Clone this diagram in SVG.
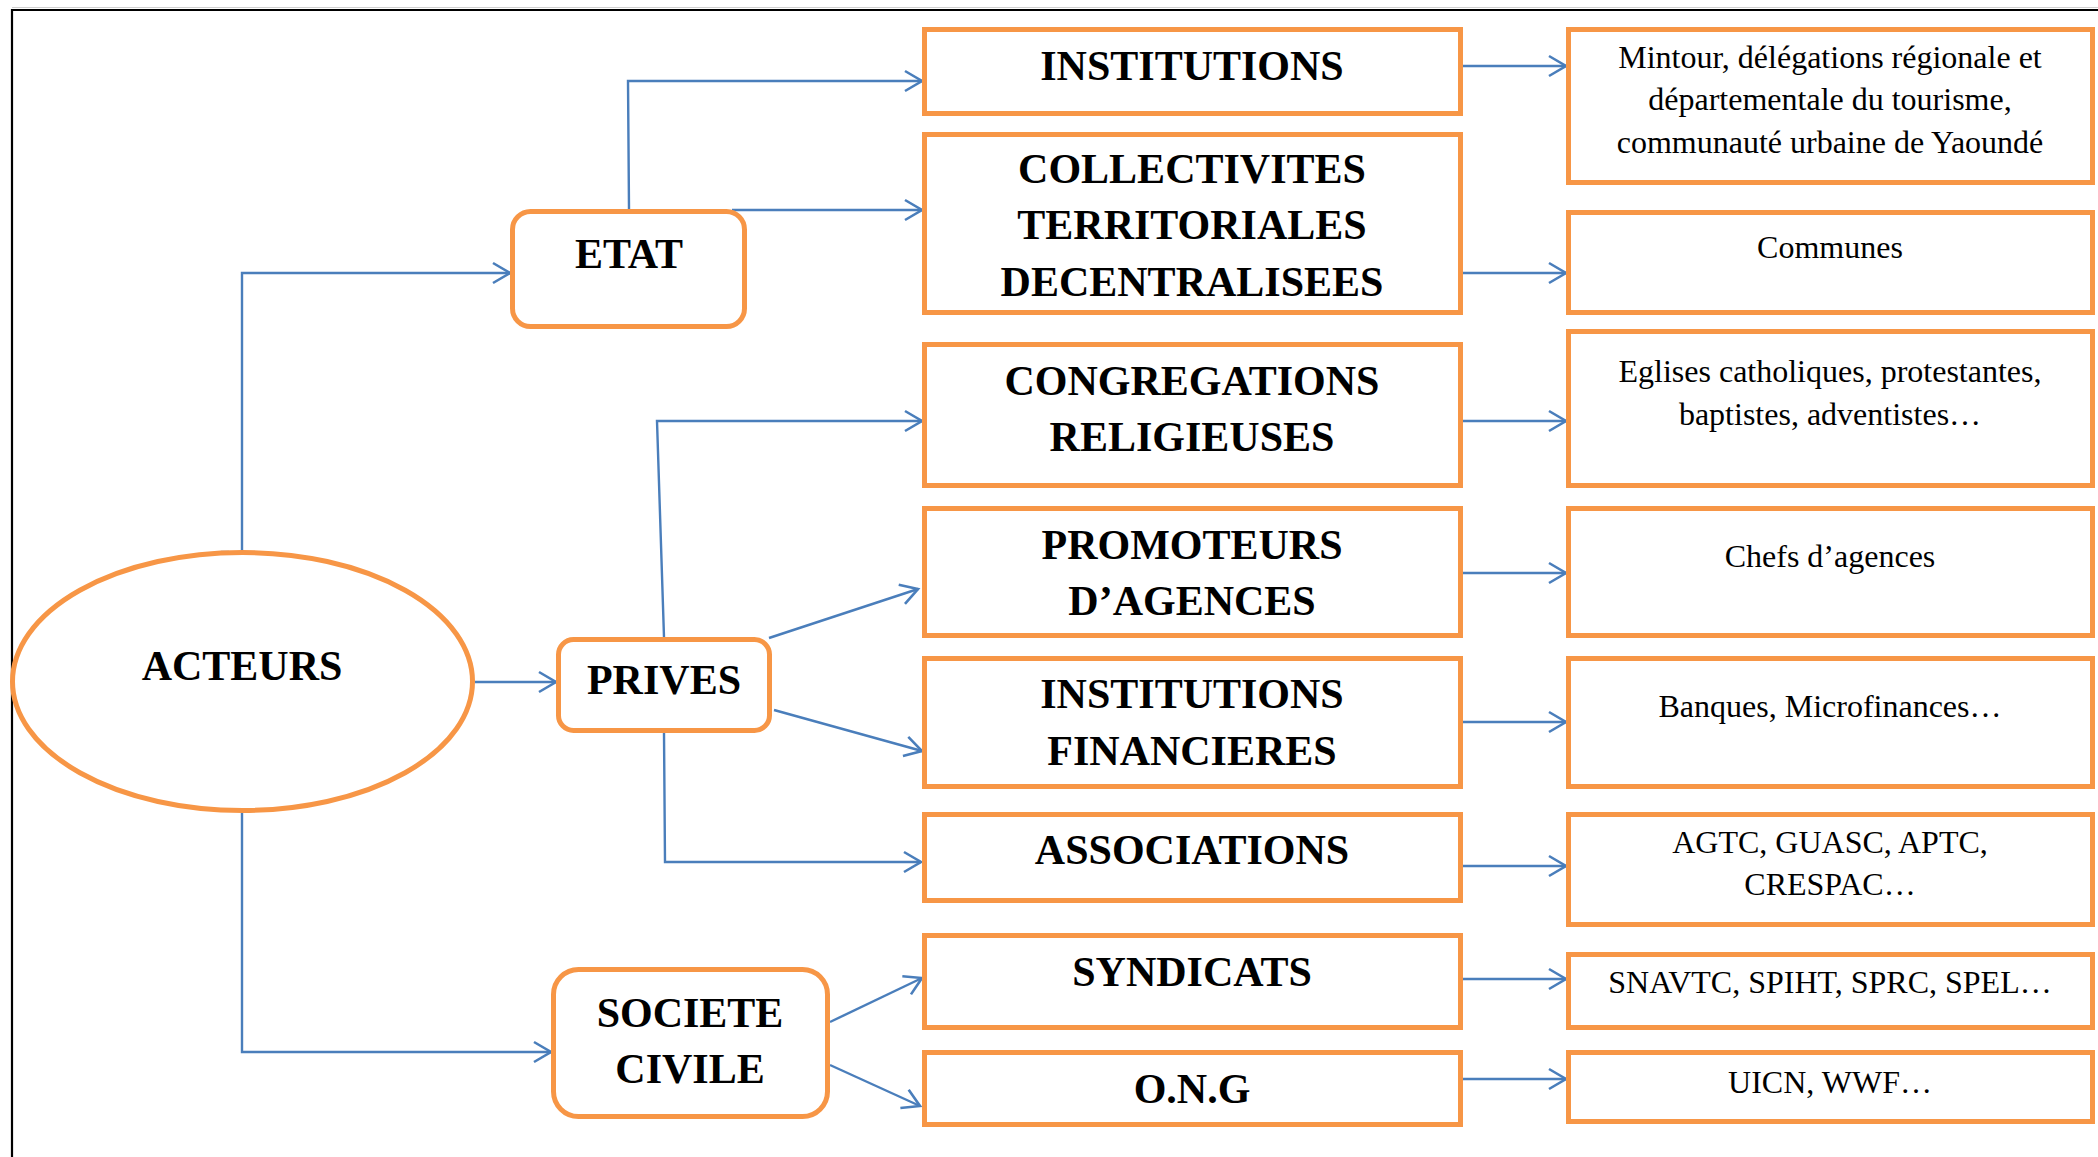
<svg xmlns="http://www.w3.org/2000/svg" width="2098" height="1157" viewBox="0 0 2098 1157">
  <style>
    .bg { fill: #ffffff; }
    .box { fill: #ffffff; stroke: #F79646; stroke-width: 5; }
    .conn { fill: none; stroke: #4A7EBB; stroke-width: 2.4; }
    .main { font-family: "Liberation Serif", "Times New Roman", serif; font-weight: bold; font-size: 42px; fill: #000; text-anchor: middle; }
    .desc { font-family: "Liberation Serif", "Times New Roman", serif; font-size: 32px; fill: #000; text-anchor: middle; }
  </style>
  <defs>
    <marker id="arr" markerUnits="userSpaceOnUse" markerWidth="26" markerHeight="26" viewBox="-22 -13 26 26" refX="0" refY="0" orient="auto">
      <path d="M-17,-10 L0,0 L-17,10" fill="none" stroke="#4A7EBB" stroke-width="2.6"/>
    </marker>
  </defs>

  <rect class="bg" x="0" y="0" width="2098" height="1157"/>

  <!-- page frame -->
  <line x1="12" y1="7.5" x2="2098" y2="7.5" stroke="#cfcfcf" stroke-width="1"/>
  <path d="M12,1157 L12,10 L2098,10" fill="none" stroke="#000" stroke-width="2.2"/>

  <!-- connectors -->
  <g id="connectors">
    <path class="conn" d="M242,552 L242,273 L510,273" marker-end="url(#arr)"/>
    <path class="conn" d="M475,682 L556,682" marker-end="url(#arr)"/>
    <path class="conn" d="M242,811 L242,1052 L551,1052" marker-end="url(#arr)"/>
    <line class="conn" x1="221" y1="552" x2="229" y2="552"/>

    <path class="conn" d="M629,209 L628,81 L922,81" marker-end="url(#arr)"/>
    <path class="conn" d="M732,210 L922,210" marker-end="url(#arr)"/>

    <path class="conn" d="M664,637 L657,421 L922,421" marker-end="url(#arr)"/>
    <path class="conn" d="M769,638 L918,589" marker-end="url(#arr)"/>
    <path class="conn" d="M774,710 L922,751" marker-end="url(#arr)"/>
    <path class="conn" d="M664,733 L665,862 L921,862" marker-end="url(#arr)"/>

    <path class="conn" d="M830,1022 L922,978" marker-end="url(#arr)"/>
    <path class="conn" d="M830,1065 L920,1106" marker-end="url(#arr)"/>

    <path class="conn" d="M1463,66 L1566,66" marker-end="url(#arr)"/>
    <path class="conn" d="M1463,273 L1566,273" marker-end="url(#arr)"/>
    <path class="conn" d="M1463,421 L1566,421" marker-end="url(#arr)"/>
    <path class="conn" d="M1463,573 L1566,573" marker-end="url(#arr)"/>
    <path class="conn" d="M1463,722 L1566,722" marker-end="url(#arr)"/>
    <path class="conn" d="M1463,866 L1566,866" marker-end="url(#arr)"/>
    <path class="conn" d="M1463,979 L1566,979" marker-end="url(#arr)"/>
    <path class="conn" d="M1463,1079 L1566,1079" marker-end="url(#arr)"/>
  </g>

  <!-- root -->
  <g id="acteurs">
    <ellipse class="box" cx="242.5" cy="681.5" rx="230" ry="129"/>
    <text class="main" x="242" y="680">ACTEURS</text>
  </g>

  <!-- actor categories -->
  <g id="etat">
    <rect class="box" x="512.5" y="211.5" width="232" height="115" rx="18"/>
    <text class="main" x="629" y="268">ETAT</text>
  </g>
  <g id="prives">
    <rect class="box" x="558.5" y="639.5" width="211" height="91" rx="15"/>
    <text class="main" x="664" y="694">PRIVES</text>
  </g>
  <g id="societe-civile">
    <rect class="box" x="553.5" y="969.5" width="274" height="147" rx="25"/>
    <text class="main" x="690" y="1027">SOCIETE</text>
    <text class="main" x="690" y="1083">CIVILE</text>
  </g>

  <!-- actor types -->
  <g id="institutions">
    <rect class="box" x="924.5" y="29.5" width="536" height="84"/>
    <text class="main" x="1192" y="80">INSTITUTIONS</text>
  </g>
  <g id="collectivites">
    <rect class="box" x="924.5" y="134.5" width="536" height="178"/>
    <text class="main" x="1192" y="183">COLLECTIVITES</text>
    <text class="main" x="1192" y="239">TERRITORIALES</text>
    <text class="main" x="1192" y="296">DECENTRALISEES</text>
  </g>
  <g id="congregations">
    <rect class="box" x="924.5" y="344.5" width="536" height="141"/>
    <text class="main" x="1192" y="395">CONGREGATIONS</text>
    <text class="main" x="1192" y="451">RELIGIEUSES</text>
  </g>
  <g id="promoteurs">
    <rect class="box" x="924.5" y="508.5" width="536" height="127"/>
    <text class="main" x="1192" y="559">PROMOTEURS</text>
    <text class="main" x="1192" y="615">D’AGENCES</text>
  </g>
  <g id="institutions-financieres">
    <rect class="box" x="924.5" y="658.5" width="536" height="128"/>
    <text class="main" x="1192" y="708">INSTITUTIONS</text>
    <text class="main" x="1192" y="765">FINANCIERES</text>
  </g>
  <g id="associations">
    <rect class="box" x="924.5" y="814.5" width="536" height="86"/>
    <text class="main" x="1192" y="864">ASSOCIATIONS</text>
  </g>
  <g id="syndicats">
    <rect class="box" x="924.5" y="935.5" width="536" height="92"/>
    <text class="main" x="1192" y="986">SYNDICATS</text>
  </g>
  <g id="ong">
    <rect class="box" x="924.5" y="1052.5" width="536" height="72"/>
    <text class="main" x="1192" y="1103">O.N.G</text>
  </g>

  <!-- examples -->
  <g id="ex-institutions">
    <rect class="box" x="1568.5" y="29.5" width="524" height="153"/>
    <text class="desc" x="1830" y="68">Mintour, délégations régionale et</text>
    <text class="desc" x="1830" y="110">départementale du tourisme,</text>
    <text class="desc" x="1830" y="153">communauté urbaine de Yaoundé</text>
  </g>
  <g id="ex-collectivites">
    <rect class="box" x="1568.5" y="212.5" width="524" height="100"/>
    <text class="desc" x="1830" y="258">Communes</text>
  </g>
  <g id="ex-congregations">
    <rect class="box" x="1568.5" y="331.5" width="524" height="154"/>
    <text class="desc" x="1830" y="382">Eglises catholiques, protestantes,</text>
    <text class="desc" x="1830" y="425">baptistes, adventistes…</text>
  </g>
  <g id="ex-promoteurs">
    <rect class="box" x="1568.5" y="508.5" width="524" height="127"/>
    <text class="desc" x="1830" y="567">Chefs d’agences</text>
  </g>
  <g id="ex-financieres">
    <rect class="box" x="1568.5" y="658.5" width="524" height="128"/>
    <text class="desc" x="1830" y="717">Banques, Microfinances…</text>
  </g>
  <g id="ex-associations">
    <rect class="box" x="1568.5" y="814.5" width="524" height="110"/>
    <text class="desc" x="1830" y="853">AGTC, GUASC, APTC,</text>
    <text class="desc" x="1830" y="895">CRESPAC…</text>
  </g>
  <g id="ex-syndicats">
    <rect class="box" x="1568.5" y="954.5" width="524" height="73"/>
    <text class="desc" x="1830" y="993">SNAVTC, SPIHT, SPRC, SPEL…</text>
  </g>
  <g id="ex-ong">
    <rect class="box" x="1568.5" y="1052.5" width="524" height="69"/>
    <text class="desc" x="1830" y="1093">UICN, WWF…</text>
  </g>
</svg>
